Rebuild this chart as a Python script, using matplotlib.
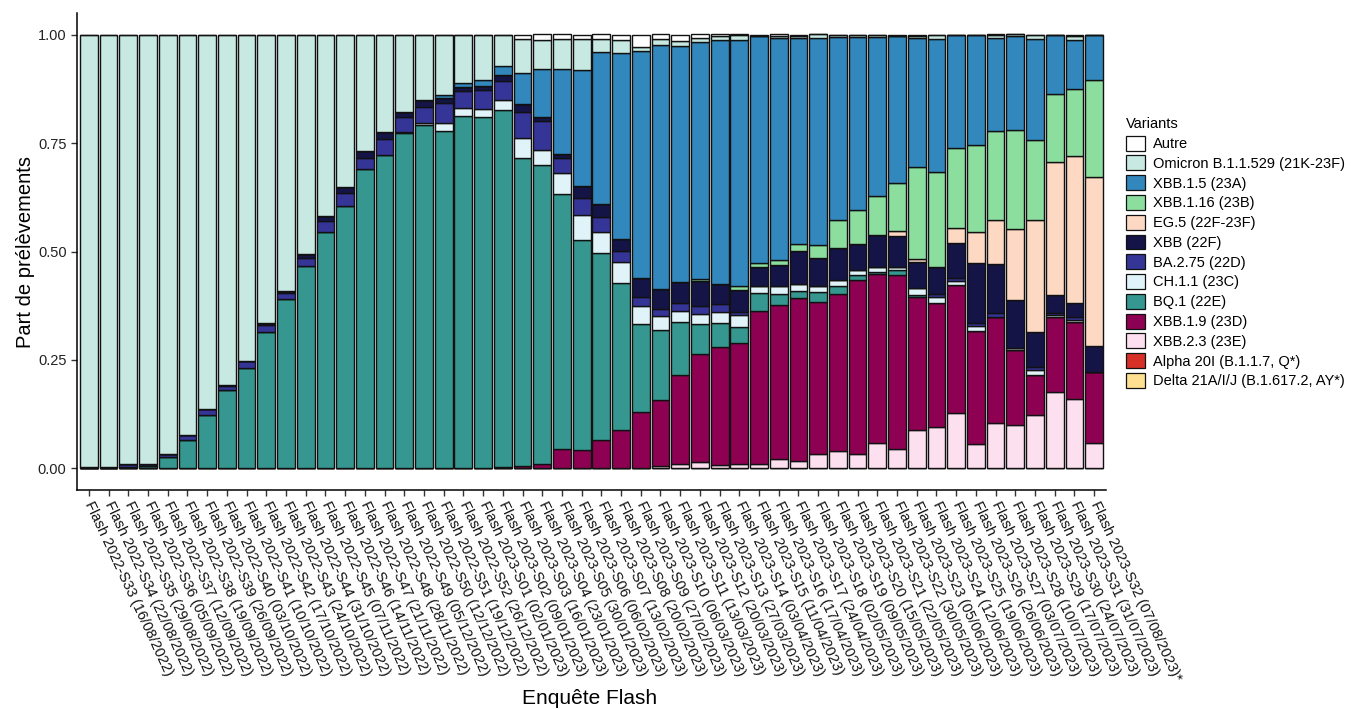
import numpy as np
import matplotlib.pyplot as plt
from matplotlib.patches import Patch

plt.rcParams['font.family'] = ['Liberation Sans', 'DejaVu Sans']

semaines = ["2022-S33 (16/08/2022)", "2022-S34 (22/08/2022)", "2022-S35 (29/08/2022)", "2022-S36 (05/09/2022)",
            "2022-S37 (12/09/2022)", "2022-S38 (19/09/2022)", "2022-S39 (26/09/2022)", "2022-S40 (03/10/2022)",
            "2022-S41 (10/10/2022)", "2022-S42 (17/10/2022)", "2022-S43 (24/10/2022)", "2022-S44 (31/10/2022)",
            "2022-S45 (07/11/2022)", "2022-S46 (14/11/2022)", "2022-S47 (21/11/2022)", "2022-S48 (28/11/2022)",
            "2022-S49 (05/12/2022)", "2022-S50 (12/12/2022)", "2022-S51 (19/12/2022)", "2022-S52 (26/12/2022)",
            "2023-S01 (02/01/2023)", "2023-S02 (09/01/2023)", "2023-S03 (16/01/2023)", "2023-S04 (23/01/2023)",
            "2023-S05 (30/01/2023)", "2023-S06 (06/02/2023)", "2023-S07 (13/02/2023)", "2023-S08 (20/02/2023)",
            "2023-S09 (27/02/2023)", "2023-S10 (06/03/2023)", "2023-S11 (13/03/2023)", "2023-S12 (20/03/2023)",
            "2023-S13 (27/03/2023)", "2023-S14 (03/04/2023)", "2023-S15 (11/04/2023)", "2023-S16 (17/04/2023)",
            "2023-S17 (24/04/2023)", "2023-S18 (02/05/2023)", "2023-S19 (09/05/2023)", "2023-S20 (15/05/2023)",
            "2023-S21 (22/05/2023)", "2023-S22 (30/05/2023)", "2023-S23 (05/06/2023)", "2023-S24 (12/06/2023)",
            "2023-S25 (19/06/2023)", "2023-S26 (26/06/2023)", "2023-S27 (03/07/2023)", "2023-S28 (10/07/2023)",
            "2023-S29 (17/07/2023)", "2023-S30 (24/07/2023)", "2023-S31 (31/07/2023)", "2023-S32 (07/08/2023)*"]

# proportions par variant (de bas en haut de la pile)
delta = [0] * 52
alpha = [0] * 52
xbb23 = [0, 0, 0, 0, 0, 0, 0, 0, 0, 0, 0, 0, 0, 0, 0, 0, 0, 0, 0, 0, 0, 0, 0, 0, 0, 0, 0, 0, 0,
         0.005, 0.009, 0.014, 0.008, 0.011, 0.011, 0.022, 0.018, 0.034, 0.041, 0.032, 0.058, 0.045,
         0.088, 0.095, 0.127, 0.057, 0.104, 0.100, 0.123, 0.177, 0.160, 0.058]
xbb19 = [0, 0, 0, 0, 0, 0, 0, 0, 0, 0, 0, 0, 0, 0, 0, 0, 0, 0, 0, 0, 0, 0.003,
         0.005, 0.011, 0.045, 0.043, 0.065, 0.089, 0.129, 0.152, 0.207, 0.250, 0.272, 0.278, 0.352,
         0.355, 0.375, 0.350, 0.361, 0.402, 0.390, 0.401, 0.306, 0.286, 0.295, 0.260, 0.246, 0.172,
         0.092, 0.171, 0.177, 0.164]
bq1 = [0, 0, 0.004, 0.006, 0.026, 0.065, 0.123, 0.181, 0.232, 0.315, 0.390, 0.467, 0.544, 0.604,
       0.690, 0.722, 0.773, 0.791, 0.779, 0.813, 0.811, 0.823, 0.710, 0.688, 0.587, 0.484, 0.432,
       0.338, 0.203, 0.163, 0.121, 0.069, 0.055, 0.038, 0.041, 0.025, 0.015, 0.022, 0.018, 0.011,
       0.005, 0.012, 0.006, 0, 0, 0, 0, 0, 0, 0, 0, 0]
ch11 = [0, 0, 0, 0, 0, 0, 0, 0, 0, 0, 0, 0, 0, 0, 0, 0, 0.003, 0.006, 0.018, 0.017, 0.017, 0.023,
        0.046, 0.035, 0.048, 0.058, 0.048, 0.049, 0.043, 0.031, 0.025, 0.022, 0.025, 0.026, 0.017,
        0.018, 0.017, 0.014, 0.015, 0.012, 0.012, 0.006, 0.015, 0.015, 0.011, 0.012, 0, 0.006,
        0.012, 0.006, 0.006, 0]
ba275 = [0.003, 0.004, 0.006, 0.005, 0.008, 0.011, 0.014, 0.008, 0.015, 0.015, 0.015, 0.017, 0.026,
         0.032, 0.025, 0.037, 0.034, 0.037, 0.046, 0.041, 0.045, 0.045, 0.060, 0.066, 0.035, 0.038,
         0.035, 0.026, 0.020, 0.017, 0.020, 0.020, 0.018, 0.008, 0, 0, 0, 0, 0, 0, 0, 0, 0,
         0.006, 0.006, 0.006, 0.008, 0, 0.006, 0.004, 0.006, 0]
xbb = [0, 0, 0, 0, 0, 0, 0, 0.004, 0, 0.005, 0.005, 0.011, 0.012, 0.012, 0.017, 0.017, 0.012, 0.015,
       0.012, 0.008, 0.008, 0.012, 0.018, 0.011, 0.009, 0.029, 0.029, 0.026, 0.043, 0.046, 0.048,
       0.057, 0.048, 0.051, 0.043, 0.049, 0.077, 0.066, 0.074, 0.060, 0.072, 0.072, 0.061, 0.063,
       0.081, 0.138, 0.114, 0.111, 0.081, 0.041, 0.032, 0.061]
eg5 = [0] * 41 + [0.011, 0.006, 0, 0.035, 0.071, 0.100, 0.163, 0.258, 0.307, 0.339, 0.389]
xbb116 = [0] * 31 + [0.005, 0, 0.008, 0.009, 0.011, 0.015, 0.028, 0.063, 0.078, 0.092, 0.112,
                     0.214, 0.218, 0.184, 0.201, 0.206, 0.229, 0.186, 0.158, 0.155, 0.224]
xbb15 = [0] * 18 + [0.006, 0.009, 0.014, 0.022, 0.072, 0.111, 0.197, 0.267, 0.350, 0.430, 0.525,
                    0.562, 0.544, 0.545, 0.561, 0.568, 0.524, 0.512, 0.475, 0.478, 0.422, 0.399,
                    0.366, 0.339, 0.296, 0.306, 0.260, 0.255, 0.214, 0.215, 0.233, 0.135, 0.112, 0.103]
omicron = [0.997, 0.996, 0.990, 0.989, 0.966, 0.924, 0.863, 0.807, 0.753, 0.665, 0.590, 0.505,
           0.418, 0.352, 0.268, 0.224, 0.178, 0.151, 0.139, 0.112, 0.105, 0.072, 0.078, 0.065,
           0.068, 0.072, 0.031, 0.029, 0.009, 0.014, 0.011, 0.011, 0.009, 0.011, 0, 0.006, 0.005,
           0.009, 0.005, 0.005, 0.005, 0, 0.006, 0.011, 0, 0, 0.008, 0.005, 0.008, 0, 0.011, 0]
autre = [0] * 22 + [0.011, 0.014, 0.012, 0.008, 0.011, 0.012, 0.028, 0.011, 0.015, 0.008, 0.005,
                    0.002, 0.003, 0.003, 0.003, 0, 0, 0, 0, 0.002, 0.002, 0, 0, 0, 0.002, 0, 0, 0,
                    0.002, 0]

variants = ["Autre", "Omicron B.1.1.529 (21K-23F)", "XBB.1.5 (23A)", "XBB.1.16 (23B)", "EG.5 (22F-23F)",
            "XBB (22F)", "BA.2.75 (22D)", "CH.1.1 (23C)", "BQ.1 (22E)", "XBB.1.9 (23D)", "XBB.2.3 (23E)",
            "Alpha 20I (B.1.1.7, Q*)", "Delta 21A/I/J (B.1.617.2, AY*)"]
couleurs = ["#FFFFFF", "#C7E9E1", "#3288BD", "#8CDE9F", "#FDD9C4", "#141447", "#353597", "#E0F3F8",
            "#35978F", "#8E0152", "#FDE0EF", "#D73027", "#FEE090"]
series = [autre, omicron, xbb15, xbb116, eg5, xbb, ba275, ch11, bq1, xbb19, xbb23, alpha, delta]

fig = plt.figure(figsize=(13.52, 7.09), dpi=100)
ax = fig.add_axes([77 / 1352, 1 - 490 / 709, 1029 / 1352, 477 / 709])

x = np.arange(len(semaines))
bas = np.zeros(len(semaines))
# on empile du bas (Delta) vers le haut (Autre)
for vals, col in zip(series[::-1], couleurs[::-1]):
    v = np.array(vals, dtype=float)
    ax.bar(x, v, bottom=bas, width=0.9, color=col, edgecolor='#111111', linewidth=1.0)
    bas += v

ax.set_xlim(-0.6, len(semaines) - 0.4)
ax.set_ylim(-0.05, 1.05)
ax.set_yticks([0, 0.25, 0.5, 0.75, 1.0])
ax.set_yticklabels(["0.00", "0.25", "0.50", "0.75", "1.00"], fontsize=10.5, color='#222222')
ax.set_xticks(x)
ax.set_xticklabels(["Flash " + s for s in semaines], rotation=-65, ha='left', va='center',
                   rotation_mode='anchor', fontsize=10.5, color='#111111')
ax.tick_params(axis='both', length=4, width=1, color='#333333')
ax.tick_params(axis='x', pad=5)
for s in ['top', 'right']:
    ax.spines[s].set_visible(False)
for s in ['left', 'bottom']:
    ax.spines[s].set_linewidth(1.1)

ax.set_ylabel("Part de prélèvements", fontsize=14.5, labelpad=2)
fig.text(590 / 1352, 1 - 699 / 709, "Enquête Flash", fontsize=15, ha='center', va='center')

poignees = [Patch(facecolor=c, edgecolor='#111111', linewidth=0.9) for c in couleurs]
fig.legend(poignees, variants, title="Variants", loc='upper left',
           bbox_to_anchor=(1119 / 1352, 1 - 110 / 709), frameon=False, fontsize=10.5,
           title_fontsize=10.5, handlelength=1.3, handleheight=1.2, labelspacing=0.3,
           handletextpad=0.55, borderpad=0, alignment='left')

fig.savefig("out.png", dpi=100)
